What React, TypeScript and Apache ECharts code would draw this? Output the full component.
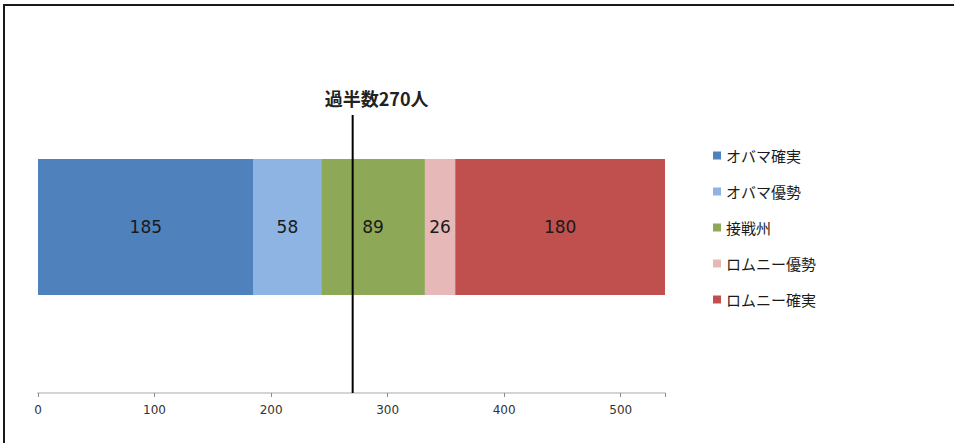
import React, { useEffect, useRef } from "react";
import * as echarts from "echarts";

// Electoral votes by state rating
const categories = [""];
const seriesNames = ["オバマ確実", "オバマ優勢", "接戦州", "ロムニー優勢", "ロムニー確実"];
const seriesValues = [185, 58, 89, 26, 180];
const seriesColors = ["#4F81BD", "#8DB4E2", "#8DA856", "#E6B9B8", "#C0504D"];
const majorityVotes = 270;
const majorityLabel = "過半数270人";
const totalVotes = 538;
const xTicks = [0, 100, 200, 300, 400, 500];

export default function App() {
  const ref = useRef<HTMLDivElement>(null);

  useEffect(() => {
    if (!ref.current) return;
    const chart = echarts.init(ref.current, null, { renderer: "svg" });
    const numFont = "'DejaVu Sans', Verdana, sans-serif";
    const jpFont = "'Noto Sans CJK JP', sans-serif";
    const lineTop = 0.837;

    const bars = seriesNames.map((name, i) => ({
      name,
      type: "bar" as const,
      stack: "total",
      xAxisIndex: 0,
      yAxisIndex: 0,
      barWidth: 136,
      itemStyle: { color: seriesColors[i] },
      label: {
        show: true,
        position: "inside" as const,
        fontFamily: numFont,
        fontSize: 17,
        color: "#1a1a1a",
      },
      data: [seriesValues[i]],
    }));

    chart.setOption({
      animation: false,
      backgroundColor: "#ffffff",
      grid: { left: 38, right: 289, top: 61, bottom: 50 },
      xAxis: {
        type: "value",
        min: 0,
        max: totalVotes,
        interval: 100,
        axisLine: { show: true, lineStyle: { color: "#d4d4d4", width: 2 } },
        axisTick: { show: true, length: 4, lineStyle: { color: "#8c8c8c" } },
        splitLine: { show: false },
        axisLabel: {
          fontFamily: numFont,
          fontSize: 12,
          color: "#333",
          margin: 11,
          formatter: (v: number) => (xTicks.includes(v) ? String(v) : ""),
        },
      },
      yAxis: [
        { type: "category", data: categories, show: false },
        { type: "value", min: 0, max: 1, show: false },
      ],
      legend: {
        orient: "vertical",
        left: 708,
        top: 143,
        data: seriesNames,
        icon: "rect",
        itemWidth: 8,
        itemHeight: 8,
        itemGap: 21,
        textStyle: { fontFamily: jpFont, fontSize: 15, color: "#1a1a1a" },
      },
      series: [
        ...bars,
        {
          name: "majority",
          type: "line",
          xAxisIndex: 0,
          yAxisIndex: 1,
          symbol: "circle",
          symbolSize: 0,
          lineStyle: { color: "#000", width: 2 },
          z: 10,
          silent: true,
          data: [
            { value: [majorityVotes, 0], label: { show: false } },
            {
              value: [majorityVotes, lineTop],
              label: {
                show: true,
                position: "top",
                distance: 8,
                offset: [24, 0],
                formatter: () => majorityLabel,
                fontFamily: jpFont,
                fontWeight: "bold",
                fontSize: 18,
                color: "#222",
              },
            },
          ],
        },
      ],
      graphic: [
        {
          type: "line",
          shape: { x1: 3, y1: 5, x2: 954, y2: 5 },
          style: { stroke: "#1a1a1a", lineWidth: 2 },
        },
        {
          type: "line",
          shape: { x1: 4, y1: 5, x2: 4, y2: 443 },
          style: { stroke: "#1a1a1a", lineWidth: 2 },
        },
      ],
    });

    return () => chart.dispose();
  }, []);

  return (
    <div
      ref={ref}
      style={{ position: "fixed", left: 0, top: 0, width: 954, height: 443 }}
    />
  );
}
